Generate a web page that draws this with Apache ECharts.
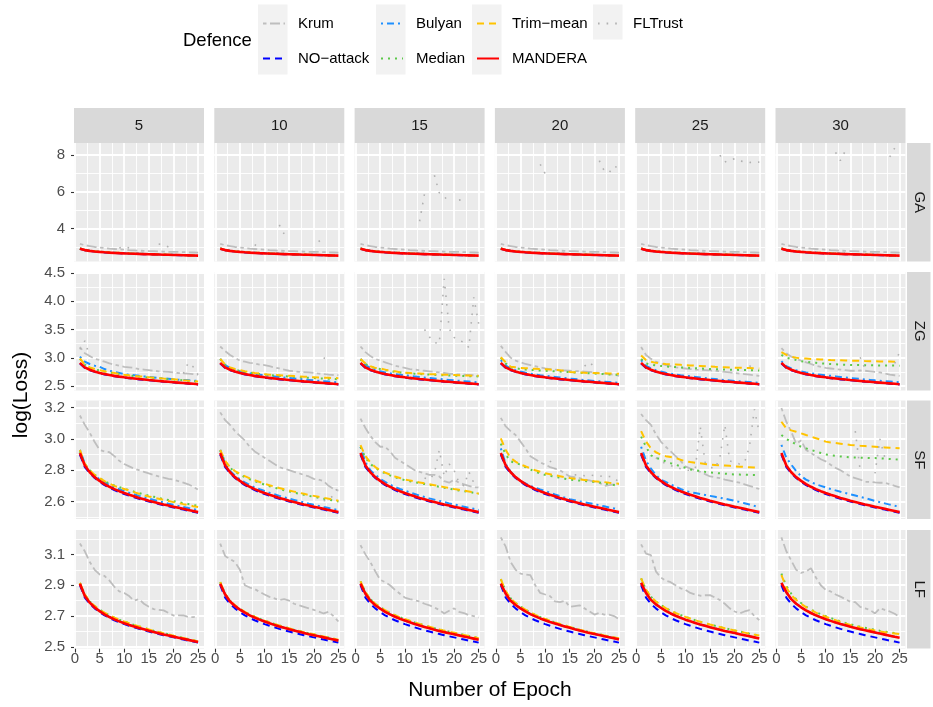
<!DOCTYPE html>
<html>
<head>
<meta charset="UTF-8">
<title>log(Loss) per epoch</title>
<style>
  html, body { margin: 0; padding: 0; background: #fff; }
  #main { width: 933px; height: 707px; }
</style>
</head>
<body>
<div id="main"></div>
<script src="https://cdn.jsdelivr.net/npm/echarts@6.0.0/dist/echarts.min.js"></script>
<script>
// ---- data -------------------------------------------------------------
var epochs = [1,2,3,4,5,6,7,8,9,10,11,12,13,14,15,16,17,18,19,20,21,22,23,24,25];
var attackers = ['5', '10', '15', '20', '25', '30'];
var attacks = ['GA', 'ZG', 'SF', 'LF'];
var defences = ['Krum', 'NO-attack', 'Bulyan', 'Median', 'Trim-mean', 'MANDERA', 'FLTrust'];

var xMajor = [0, 5, 10, 15, 20, 25];
var xMinor = [2.5, 7.5, 12.5, 17.5, 22.5];
var yMajorGA = [4, 6, 8],                yMinorGA = [3, 5, 7];
var yMajorZG = [2.5, 3.0, 3.5, 4.0, 4.5], yMinorZG = [2.75, 3.25, 3.75, 4.25];
var yMajorSF = [2.6, 2.8, 3.0, 3.2],      yMinorSF = [2.5, 2.7, 2.9, 3.1];
var yMajorLF = [2.5, 2.7, 2.9, 3.1],      yMinorLF = [2.6, 2.8, 3.0, 3.2];

// shared curves
var noAttack    = [2.90,2.82,2.78,2.75,2.725,2.705,2.688,2.673,2.66,2.648,2.637,2.627,2.617,2.608,2.60,2.592,2.584,2.576,2.569,2.562,2.555,2.548,2.541,2.535,2.528];
var manderaBase = [2.91,2.83,2.787,2.756,2.732,2.711,2.694,2.679,2.666,2.654,2.643,2.633,2.623,2.614,2.605,2.597,2.589,2.581,2.574,2.567,2.56,2.553,2.546,2.539,2.532];

// GA
var krumGA   = [3.17,3.10,3.05,3.00,2.97,2.94,2.91,2.89,2.87,2.85,2.83,2.82,2.80,2.79,2.78,2.77,2.76,2.75,2.74,2.735,2.73,2.72,2.71,2.70,2.69];
var robustGA = [2.92,2.84,2.80,2.77,2.745,2.725,2.708,2.693,2.68,2.668,2.656,2.645,2.635,2.625,2.616,2.607,2.598,2.59,2.582,2.574,2.566,2.558,2.55,2.543,2.536];
var fltGA5  = [null,null,null,null,null,null,null,null,2.95,3.03,2.95,null,null,null,null,null,3.16,3.12,3.0,null,null,null,null,null,null];
var fltGA10 = [null,null,null,null,null,null,null,3.13,2.95,null,null,null,4.2,3.7,null,null,null,null,null,null,3.35,3.05,null,null,null];
var fltGA15 = [null,null,null,null,null,null,null,null,null,null,null,null,4.4,5.9,null,6.9,5.95,5.8,5.3,null,5.55,5.6,null,null,null];
var fltGA20 = [null,null,null,null,null,null,null,null,7.5,7.0,null,null,null,null,null,null,null,null,null,null,7.7,7.15,7.05,7.4,7.28];
var fltGA25 = [null,null,null,null,null,null,null,null,null,null,null,null,null,null,null,null,8.0,7.62,7.75,7.8,7.68,7.65,7.6,7.62,7.62];
var fltGA30 = [null,null,null,null,null,null,null,null,null,null,null,8.15,7.7,8.25,null,null,null,null,null,null,null,null,7.9,8.38,null];

// ZG
var krumZG5  = [3.19,3.08,3.03,2.98,2.96,2.93,2.90,2.88,2.86,2.84,2.83,2.82,2.80,2.79,2.78,2.77,2.76,2.755,2.75,2.74,2.73,2.725,2.72,2.71,2.70];
var krumZG10 = [3.20,3.12,3.05,3.00,2.95,2.93,2.91,2.90,2.88,2.87,2.85,2.83,2.81,2.79,2.77,2.76,2.75,2.745,2.74,2.73,2.72,2.71,2.70,2.695,2.69];
var krumZG15 = [3.20,3.10,3.03,2.98,2.95,2.92,2.89,2.86,2.84,2.82,2.80,2.79,2.78,2.77,2.76,2.75,2.74,2.73,2.72,2.71,2.705,2.70,2.695,2.69,2.68];
var krumZG20 = [3.21,3.10,3.00,2.95,2.92,2.89,2.87,2.85,2.83,2.81,2.80,2.79,2.78,2.775,2.77,2.765,2.76,2.755,2.75,2.74,2.73,2.72,2.71,2.70,2.68];
var krumZG25 = [3.19,3.05,2.98,2.93,2.90,2.87,2.85,2.83,2.82,2.81,2.80,2.79,2.785,2.78,2.775,2.77,2.76,2.75,2.74,2.73,2.72,2.71,2.70,2.69,2.68];
var krumZG30 = [3.17,3.08,3.02,2.98,2.95,2.92,2.89,2.86,2.84,2.82,2.81,2.80,2.79,2.78,2.77,2.77,2.775,2.77,2.76,2.75,2.74,2.72,2.70,2.69,2.68];
var trimZG5    = [2.99,2.88,2.83,2.80,2.78,2.76,2.745,2.73,2.715,2.70,2.69,2.68,2.67,2.665,2.655,2.648,2.64,2.632,2.625,2.618,2.61,2.602,2.595,2.588,2.58];
var medianZG5  = [2.98,2.875,2.825,2.795,2.775,2.755,2.74,2.725,2.71,2.695,2.685,2.675,2.665,2.658,2.65,2.643,2.636,2.629,2.622,2.615,2.608,2.60,2.592,2.585,2.578];
var bulyanZG5  = [3.02,2.93,2.89,2.86,2.84,2.80,2.77,2.75,2.73,2.71,2.70,2.69,2.68,2.67,2.66,2.65,2.64,2.635,2.63,2.62,2.61,2.605,2.60,2.595,2.59];
var trimZG10   = [2.98,2.88,2.83,2.80,2.78,2.76,2.745,2.73,2.72,2.71,2.70,2.695,2.69,2.685,2.68,2.675,2.67,2.665,2.66,2.655,2.65,2.647,2.644,2.641,2.638];
var medianZG10 = [2.975,2.87,2.82,2.79,2.77,2.75,2.737,2.722,2.712,2.702,2.692,2.686,2.68,2.674,2.668,2.662,2.656,2.65,2.645,2.64,2.636,2.632,2.628,2.624,2.62];
var bulyanZG10 = [2.98,2.87,2.82,2.79,2.76,2.74,2.725,2.71,2.70,2.69,2.68,2.67,2.66,2.65,2.64,2.632,2.624,2.616,2.608,2.60,2.593,2.586,2.579,2.572,2.565];
var trimZG15   = [2.98,2.90,2.85,2.82,2.81,2.79,2.77,2.76,2.745,2.735,2.73,2.725,2.72,2.715,2.71,2.707,2.704,2.70,2.697,2.694,2.69,2.688,2.685,2.682,2.68];
var medianZG15 = [2.97,2.89,2.84,2.815,2.80,2.785,2.765,2.752,2.74,2.73,2.724,2.718,2.712,2.707,2.702,2.698,2.694,2.69,2.687,2.684,2.68,2.678,2.675,2.672,2.67];
var trimZG20   = [3.01,2.92,2.84,2.83,2.82,2.815,2.81,2.805,2.80,2.795,2.79,2.785,2.78,2.765,2.75,2.745,2.74,2.735,2.73,2.728,2.726,2.724,2.722,2.72,2.718];
var medianZG20 = [3.00,2.90,2.83,2.815,2.80,2.79,2.785,2.78,2.775,2.77,2.765,2.76,2.755,2.75,2.745,2.74,2.735,2.73,2.725,2.72,2.715,2.71,2.705,2.70,2.70];
var bulyanZG20 = [2.96,2.86,2.81,2.78,2.755,2.735,2.72,2.705,2.692,2.68,2.67,2.66,2.65,2.64,2.63,2.622,2.614,2.606,2.598,2.59,2.583,2.576,2.569,2.562,2.555];
var trimZG25   = [3.04,2.96,2.93,2.91,2.90,2.89,2.885,2.88,2.875,2.87,2.865,2.86,2.855,2.85,2.845,2.84,2.836,2.832,2.828,2.825,2.822,2.82,2.818,2.815,2.81];
var medianZG25 = [2.98,2.90,2.88,2.865,2.855,2.845,2.84,2.835,2.83,2.825,2.82,2.815,2.81,2.805,2.80,2.798,2.795,2.792,2.79,2.788,2.785,2.782,2.78,2.778,2.775];
var trimZG30   = [3.10,3.05,3.02,3.00,2.99,2.985,2.98,2.975,2.97,2.965,2.96,2.958,2.955,2.952,2.95,2.948,2.945,2.942,2.94,2.938,2.936,2.934,2.932,2.93,2.928];
var medianZG30 = [3.05,3.00,2.98,2.96,2.94,2.93,2.92,2.91,2.90,2.895,2.89,2.885,2.88,2.877,2.874,2.872,2.87,2.868,2.866,2.865,2.864,2.863,2.862,2.861,2.86];
var bulyanZG30 = [2.94,2.85,2.81,2.78,2.76,2.74,2.725,2.71,2.70,2.69,2.68,2.67,2.66,2.65,2.64,2.632,2.624,2.616,2.608,2.60,2.593,2.586,2.579,2.572,2.565];
var fltZG5  = [3.15,3.30,3.02,null,null,null,null,null,null,null,null,null,null,null,null,null,null,null,null,null,null,2.72,2.91,2.84,2.70];
var fltZG10 = [null,null,null,null,null,null,null,null,null,null,null,null,null,null,null,null,null,null,null,null,null,3.0,2.95,null,null];
var fltZG15 = [null,null,null,null,null,null,null,null,null,null,null,null,null,3.5,3.37,3.27,3.25,4.40,3.52,3.36,3.30,3.28,3.18,4.07,3.60];
var fltZG20 = [null,null,null,null,null,null,null,null,null,null,null,null,null,null,null,null,null,2.85,2.92,2.84,null,null,null,null,null];
var fltZG25 = [null,null,null,null,null,null,null,null,null,null,null,null,null,null,null,null,null,null,null,null,null,null,2.86,2.80,null];
var fltZG30 = [null,null,null,null,null,null,null,null,null,null,null,null,null,null,null,null,3.01,2.80,null,null,null,null,null,2.90,3.10];

// SF
var krumSF5    = [3.15,3.09,3.04,2.98,2.93,2.92,2.915,2.89,2.86,2.84,2.825,2.81,2.80,2.79,2.78,2.77,2.76,2.752,2.745,2.74,2.73,2.72,2.71,2.695,2.675];
var trimSF5    = [2.93,2.84,2.80,2.77,2.75,2.73,2.715,2.70,2.69,2.68,2.67,2.66,2.65,2.64,2.632,2.625,2.618,2.61,2.603,2.596,2.59,2.583,2.577,2.57,2.565];
var medianSF5  = [2.92,2.84,2.80,2.77,2.75,2.73,2.715,2.702,2.692,2.682,2.672,2.663,2.654,2.645,2.637,2.63,2.623,2.616,2.609,2.602,2.596,2.59,2.584,2.578,2.572];
var bulyanSF5  = [2.93,2.84,2.795,2.765,2.742,2.722,2.705,2.69,2.678,2.667,2.656,2.646,2.636,2.627,2.618,2.61,2.602,2.594,2.586,2.579,2.572,2.565,2.558,2.551,2.545];
var krumSF10   = [3.17,3.12,3.09,3.05,3.02,2.99,2.95,2.92,2.90,2.88,2.86,2.84,2.82,2.81,2.80,2.79,2.78,2.77,2.76,2.745,2.74,2.73,2.70,2.68,2.67];
var trimSF10   = [2.93,2.86,2.82,2.795,2.778,2.762,2.748,2.736,2.725,2.714,2.704,2.695,2.686,2.678,2.67,2.663,2.656,2.649,2.642,2.636,2.63,2.624,2.618,2.612,2.605];
var medianSF10 = [2.925,2.855,2.815,2.79,2.772,2.756,2.742,2.73,2.719,2.708,2.698,2.689,2.68,2.672,2.664,2.657,2.65,2.643,2.636,2.63,2.624,2.618,2.612,2.606,2.60];
var fltSF10    = [null,null,null,null,null,null,null,null,null,null,null,null,null,null,null,null,null,null,null,null,null,2.605,2.61,2.64,2.70];
var krumSF15   = [3.13,3.07,3.02,2.98,2.95,2.95,2.92,2.88,2.86,2.84,2.82,2.80,2.79,2.78,2.77,2.77,2.76,2.73,2.72,2.74,2.72,2.71,2.70,2.69,2.69];
var trimSF15   = [2.96,2.89,2.85,2.82,2.80,2.785,2.772,2.76,2.75,2.74,2.735,2.728,2.722,2.716,2.71,2.704,2.698,2.692,2.686,2.68,2.675,2.67,2.664,2.658,2.65];
var medianSF15 = [2.95,2.88,2.84,2.815,2.795,2.78,2.767,2.755,2.745,2.736,2.73,2.724,2.718,2.712,2.706,2.70,2.694,2.688,2.682,2.676,2.671,2.666,2.661,2.656,2.65];
var bulyanSF15 = [2.95,2.85,2.80,2.77,2.745,2.725,2.708,2.693,2.68,2.669,2.658,2.648,2.638,2.629,2.62,2.612,2.604,2.596,2.588,2.581,2.574,2.567,2.56,2.553,2.546];
var fltSF15    = [null,null,null,null,null,null,null,null,null,null,null,null,null,2.75,2.74,2.78,2.93,2.76,2.84,2.80,2.72,2.70,2.79,2.72,2.70];
var krumSF20   = [3.135,3.08,3.05,3.025,2.983,2.94,2.89,2.87,2.85,2.836,2.82,2.81,2.80,2.78,2.76,2.755,2.75,2.74,2.735,2.726,2.72,2.70,2.705,2.71,2.71];
var trimSF20   = [3.004,2.93,2.878,2.855,2.836,2.825,2.812,2.80,2.79,2.78,2.774,2.768,2.762,2.756,2.75,2.746,2.742,2.738,2.734,2.73,2.727,2.724,2.72,2.717,2.714];
var medianSF20 = [2.97,2.90,2.857,2.845,2.836,2.82,2.805,2.79,2.78,2.77,2.764,2.758,2.752,2.746,2.74,2.737,2.734,2.731,2.728,2.726,2.722,2.716,2.71,2.705,2.70];
var bulyanSF20 = [2.94,2.84,2.79,2.755,2.73,2.715,2.70,2.688,2.677,2.667,2.656,2.645,2.635,2.625,2.615,2.608,2.601,2.595,2.589,2.583,2.576,2.569,2.562,2.556,2.55];
var fltSF20    = [null,null,null,null,null,null,null,null,null,null,2.86,2.81,null,null,null,2.77,2.77,2.765,2.77,2.765,2.76,2.765,2.76,2.755,2.72];
var krumSF25   = [3.16,3.12,3.09,3.03,2.983,2.95,2.92,2.89,2.86,2.825,2.81,2.80,2.79,2.775,2.76,2.755,2.75,2.74,2.733,2.726,2.72,2.71,2.70,2.69,2.68];
var trimSF25   = [3.05,2.983,2.94,2.915,2.90,2.89,2.884,2.878,2.867,2.857,2.852,2.848,2.844,2.84,2.836,2.834,2.832,2.83,2.828,2.825,2.823,2.821,2.819,2.817,2.815];
var medianSF25 = [3.015,2.95,2.895,2.878,2.87,2.857,2.845,2.835,2.825,2.815,2.805,2.80,2.795,2.79,2.786,2.783,2.78,2.778,2.775,2.773,2.772,2.771,2.77,2.769,2.768];
var bulyanSF25 = [2.95,2.86,2.81,2.77,2.74,2.725,2.71,2.695,2.68,2.667,2.66,2.654,2.648,2.642,2.636,2.63,2.624,2.618,2.611,2.604,2.597,2.589,2.581,2.572,2.562];
var fltSF25    = [null,null,null,2.88,2.86,2.84,2.83,2.82,2.81,2.80,2.80,2.81,3.08,2.85,2.82,2.81,2.88,3.09,2.86,2.85,2.84,2.85,2.95,3.19,3.04];
var krumSF30   = [3.198,3.11,3.046,2.97,2.99,2.93,2.91,2.89,2.87,2.857,2.835,2.815,2.80,2.78,2.76,2.75,2.74,2.726,2.725,2.722,2.72,2.72,2.71,2.70,2.69];
var trimSF30   = [3.11,3.067,3.055,3.046,3.036,3.025,3.015,3.005,2.995,2.983,2.978,2.974,2.97,2.966,2.962,2.96,2.957,2.955,2.952,2.95,2.948,2.946,2.944,2.942,2.94];
var medianSF30 = [3.025,3.00,2.983,2.965,2.95,2.94,2.93,2.92,2.91,2.90,2.896,2.892,2.888,2.885,2.882,2.881,2.88,2.879,2.878,2.878,2.876,2.874,2.872,2.87,2.867];
var bulyanSF30 = [2.962,2.88,2.836,2.795,2.762,2.74,2.725,2.71,2.70,2.69,2.68,2.671,2.662,2.654,2.646,2.638,2.63,2.622,2.613,2.604,2.596,2.588,2.58,2.573,2.566];
var fltSF30    = [null,null,null,null,null,null,null,null,null,null,null,null,null,null,null,3.05,2.80,null,null,2.78,3.0,2.88,2.86,null,null];

// LF
var krumLF5  = [3.17,3.12,3.05,3.00,2.97,2.96,2.93,2.89,2.86,2.85,2.83,2.80,2.81,2.78,2.76,2.745,2.74,2.737,2.72,2.704,2.705,2.704,2.695,2.693,2.698];
var krumLF10 = [3.17,3.09,3.07,3.05,3.00,2.90,2.885,2.875,2.857,2.84,2.825,2.815,2.803,2.81,2.80,2.78,2.77,2.76,2.75,2.74,2.73,2.717,2.728,2.70,2.665];
var krumLF15 = [3.16,3.10,3.05,2.99,2.935,2.92,2.90,2.87,2.845,2.82,2.81,2.803,2.795,2.78,2.77,2.755,2.74,2.717,2.735,2.75,2.728,2.72,2.706,2.70,2.69];
var krumLF20 = [3.21,3.15,3.05,3.00,2.975,2.97,2.966,2.90,2.85,2.84,2.83,2.795,2.79,2.80,2.76,2.765,2.77,2.75,2.73,2.71,2.72,2.71,2.71,2.70,2.68];
var krumLF25 = [3.165,3.105,3.095,2.99,2.95,2.93,2.92,2.90,2.88,2.87,2.85,2.84,2.832,2.835,2.836,2.82,2.804,2.78,2.75,2.73,2.717,2.73,2.739,2.70,2.674];
var krumLF30 = [3.21,3.12,3.06,3.00,2.98,2.99,3.01,2.95,2.90,2.87,2.86,2.84,2.826,2.81,2.793,2.79,2.76,2.75,2.74,2.717,2.75,2.74,2.73,2.715,2.695];
var manderaLF10 = [2.91,2.84,2.795,2.765,2.742,2.722,2.705,2.69,2.677,2.665,2.654,2.643,2.633,2.624,2.615,2.607,2.599,2.591,2.583,2.576,2.569,2.562,2.555,2.548,2.541];
var manderaLF15 = [2.91,2.845,2.80,2.77,2.748,2.728,2.711,2.696,2.683,2.671,2.66,2.649,2.639,2.63,2.621,2.612,2.604,2.596,2.589,2.582,2.575,2.568,2.561,2.554,2.547];
var manderaLF20 = [2.91,2.845,2.80,2.772,2.75,2.73,2.713,2.698,2.685,2.673,2.662,2.652,2.642,2.633,2.624,2.615,2.607,2.599,2.591,2.584,2.577,2.57,2.563,2.556,2.548];
var manderaLF25 = [2.915,2.85,2.805,2.776,2.754,2.734,2.717,2.702,2.689,2.677,2.666,2.656,2.646,2.637,2.628,2.62,2.612,2.604,2.597,2.59,2.583,2.576,2.569,2.562,2.555];
var manderaLF30 = [2.915,2.855,2.81,2.78,2.757,2.737,2.72,2.705,2.692,2.68,2.669,2.659,2.649,2.64,2.631,2.623,2.615,2.608,2.601,2.594,2.587,2.58,2.573,2.566,2.56];
var trimLF5  = [2.915,2.84,2.795,2.765,2.742,2.722,2.705,2.69,2.677,2.665,2.654,2.643,2.633,2.623,2.614,2.605,2.597,2.589,2.581,2.573,2.566,2.558,2.551,2.544,2.536];
var trimLF10 = [2.92,2.845,2.80,2.77,2.748,2.728,2.711,2.696,2.683,2.671,2.66,2.649,2.639,2.63,2.621,2.612,2.604,2.596,2.589,2.582,2.575,2.568,2.561,2.554,2.547];
var trimLF15 = [2.925,2.855,2.81,2.78,2.758,2.738,2.721,2.706,2.693,2.681,2.67,2.659,2.649,2.64,2.631,2.622,2.614,2.606,2.599,2.592,2.585,2.578,2.571,2.564,2.557];
var trimLF20 = [2.94,2.86,2.815,2.785,2.762,2.742,2.724,2.708,2.694,2.682,2.67,2.659,2.649,2.639,2.63,2.621,2.612,2.604,2.596,2.589,2.582,2.575,2.568,2.562,2.556];
var trimLF25 = [2.945,2.87,2.825,2.795,2.772,2.752,2.735,2.72,2.707,2.695,2.684,2.673,2.663,2.654,2.645,2.637,2.629,2.621,2.614,2.607,2.60,2.593,2.586,2.58,2.574];
var trimLF30 = [2.965,2.885,2.835,2.805,2.78,2.758,2.739,2.722,2.708,2.696,2.684,2.673,2.662,2.652,2.643,2.635,2.627,2.62,2.613,2.607,2.601,2.596,2.591,2.587,2.583];
var medianLF30 = [2.975,2.895,2.845,2.81,2.785,2.762,2.743,2.726,2.712,2.70,2.688,2.677,2.666,2.656,2.647,2.639,2.631,2.624,2.617,2.611,2.605,2.60,2.595,2.591,2.587];

// lookup table: attack -> per attacker count -> defence -> values
var panelData = {
  GA: [
    { Krum: krumGA, Bulyan: robustGA, Median: robustGA, 'Trim-mean': robustGA, MANDERA: manderaBase, FLTrust: fltGA5 },
    { Krum: krumGA, Bulyan: robustGA, Median: robustGA, 'Trim-mean': robustGA, MANDERA: manderaBase, FLTrust: fltGA10 },
    { Krum: krumGA, Bulyan: robustGA, Median: robustGA, 'Trim-mean': robustGA, MANDERA: manderaBase, FLTrust: fltGA15 },
    { Krum: krumGA, Bulyan: robustGA, Median: robustGA, 'Trim-mean': robustGA, MANDERA: manderaBase, FLTrust: fltGA20 },
    { Krum: krumGA, Bulyan: robustGA, Median: robustGA, 'Trim-mean': robustGA, MANDERA: manderaBase, FLTrust: fltGA25 },
    { Krum: krumGA, Bulyan: robustGA, Median: robustGA, 'Trim-mean': robustGA, MANDERA: manderaBase, FLTrust: fltGA30 }
  ],
  ZG: [
    { Krum: krumZG5,  Bulyan: bulyanZG5,  Median: medianZG5,  'Trim-mean': trimZG5,  MANDERA: manderaBase, FLTrust: fltZG5 },
    { Krum: krumZG10, Bulyan: bulyanZG10, Median: medianZG10, 'Trim-mean': trimZG10, MANDERA: manderaBase, FLTrust: fltZG10 },
    { Krum: krumZG15, Bulyan: bulyanZG10, Median: medianZG15, 'Trim-mean': trimZG15, MANDERA: manderaBase, FLTrust: fltZG15 },
    { Krum: krumZG20, Bulyan: bulyanZG20, Median: medianZG20, 'Trim-mean': trimZG20, MANDERA: manderaBase, FLTrust: fltZG20 },
    { Krum: krumZG25, Bulyan: bulyanZG20, Median: medianZG25, 'Trim-mean': trimZG25, MANDERA: manderaBase, FLTrust: fltZG25 },
    { Krum: krumZG30, Bulyan: bulyanZG30, Median: medianZG30, 'Trim-mean': trimZG30, MANDERA: manderaBase, FLTrust: fltZG30 }
  ],
  SF: [
    { Krum: krumSF5,  Bulyan: bulyanSF5,  Median: medianSF5,  'Trim-mean': trimSF5,  MANDERA: manderaBase, FLTrust: null },
    { Krum: krumSF10, Bulyan: bulyanSF5,  Median: medianSF10, 'Trim-mean': trimSF10, MANDERA: manderaBase, FLTrust: fltSF10 },
    { Krum: krumSF15, Bulyan: bulyanSF15, Median: medianSF15, 'Trim-mean': trimSF15, MANDERA: manderaBase, FLTrust: fltSF15 },
    { Krum: krumSF20, Bulyan: bulyanSF20, Median: medianSF20, 'Trim-mean': trimSF20, MANDERA: manderaBase, FLTrust: fltSF20 },
    { Krum: krumSF25, Bulyan: bulyanSF25, Median: medianSF25, 'Trim-mean': trimSF25, MANDERA: manderaBase, FLTrust: fltSF25 },
    { Krum: krumSF30, Bulyan: bulyanSF30, Median: medianSF30, 'Trim-mean': trimSF30, MANDERA: manderaBase, FLTrust: fltSF30 }
  ],
  LF: [
    { Krum: krumLF5,  Bulyan: manderaBase, Median: trimLF5,  'Trim-mean': trimLF5,  MANDERA: manderaBase, FLTrust: null },
    { Krum: krumLF10, Bulyan: manderaLF10, Median: trimLF10, 'Trim-mean': trimLF10, MANDERA: manderaLF10, FLTrust: null },
    { Krum: krumLF15, Bulyan: manderaLF15, Median: trimLF15, 'Trim-mean': trimLF15, MANDERA: manderaLF15, FLTrust: null },
    { Krum: krumLF20, Bulyan: manderaLF20, Median: trimLF20, 'Trim-mean': trimLF20, MANDERA: manderaLF20, FLTrust: null },
    { Krum: krumLF25, Bulyan: manderaLF25, Median: trimLF25, 'Trim-mean': trimLF25, MANDERA: manderaLF25, FLTrust: null },
    { Krum: krumLF30, Bulyan: manderaLF30, Median: medianLF30, 'Trim-mean': trimLF30, MANDERA: manderaLF30, FLTrust: null }
  ]
};

// ---- layout & styles --------------------------------------------------
var FONT = "'Liberation Sans', Arial, Helvetica, sans-serif";
var colLeft = [74, 214.3, 354.6, 494.9, 635.2, 775.5];
var rowTop = [143, 272, 400.5, 530];
var panelW = 130, panelH = 118.5;
var yRange = { GA: [2.21, 8.66], ZG: [2.42, 4.52], SF: [2.488, 3.246], LF: [2.49, 3.258] };
var yMajor = { GA: yMajorGA, ZG: yMajorZG, SF: yMajorSF, LF: yMajorLF };
var yMinor = { GA: yMinorGA, ZG: yMinorZG, SF: yMinorSF, LF: yMinorLF };

var lineLook = {
  'Krum':      { color: '#BEBEBE', width: 1.8, type: [3.5, 3.5, 10, 3.5] },
  'NO-attack': { color: '#0000FF', width: 2,   type: [7, 5] },
  'Bulyan':    { color: '#1E90FF', width: 2,   type: [2, 4, 7, 4] },
  'Median':    { color: '#5CC84A', width: 2,   type: [2, 5] },
  'Trim-mean': { color: '#FFC300', width: 2,   type: [7, 5] },
  'MANDERA':   { color: '#FF0000', width: 2.6, type: 'solid' },
  'FLTrust':   { color: '#B0B0B0', width: 1.6, type: [1.6, 7] }
};

var grids = [], xAxes = [], yAxes = [], series = [];

attacks.forEach(function (att, r) {
  attackers.forEach(function (n, c) {
    var g = r * 6 + c;
    grids.push({
      left: colLeft[c], top: rowTop[r], width: panelW, height: panelH,
      show: true, backgroundColor: '#EBEBEB', borderWidth: 0
    });
    xAxes.push({
      gridIndex: g, type: 'value', min: -0.2, max: 26.2,
      axisLine: { show: false }, splitLine: { show: false },
      axisTick: { show: r === 3, customValues: xMajor, length: 4, lineStyle: { color: '#333333', width: 1.1 } },
      axisLabel: { show: r === 3, customValues: xMajor, color: '#4D4D4D', fontSize: 15, fontFamily: FONT, margin: 3 }
    });
    yAxes.push({
      gridIndex: g, type: 'value', min: yRange[att][0], max: yRange[att][1],
      axisLine: { show: false }, splitLine: { show: false },
      axisTick: { show: c === 0, customValues: yMajor[att], length: 4, lineStyle: { color: '#333333', width: 1.1 } },
      axisLabel: {
        show: c === 0, customValues: yMajor[att], color: '#4D4D4D', fontSize: 15, fontFamily: FONT, margin: 9,
        formatter: function (v) { return att === 'GA' ? String(Math.round(v)) : v.toFixed(1); }
      }
    });

    // panel grid lines (ggplot-like white major/minor lines)
    var gl = [];
    yMinor[att].forEach(function (v) { gl.push({ yAxis: v, lineStyle: { width: 0.9 } }); });
    yMajor[att].forEach(function (v) { gl.push({ yAxis: v, lineStyle: { width: 1.8 } }); });
    xMinor.forEach(function (v) { gl.push({ xAxis: v, lineStyle: { width: 0.9 } }); });
    xMajor.forEach(function (v) { gl.push({ xAxis: v, lineStyle: { width: 1.8 } }); });
    series.push({
      type: 'line', xAxisIndex: g, yAxisIndex: g, data: [], silent: true, z: 1,
      markLine: {
        silent: true, symbol: ['none', 'none'], z: 1, animation: false,
        label: { show: false },
        lineStyle: { color: '#FFFFFF', type: 'solid' },
        emphasis: { disabled: true },
        data: gl
      }
    });

    defences.forEach(function (d) {
      var vals = d === 'NO-attack' ? noAttack : panelData[att][c][d];
      var pts = vals ? epochs.map(function (e, i) { return [e, vals[i] == null ? '-' : vals[i]]; }) : [];
      var look = lineLook[d];
      series.push({
        name: d, type: 'line', xAxisIndex: g, yAxisIndex: g,
        data: pts, symbol: 'none', silent: true, z: 2,
        itemStyle: { color: look.color },
        lineStyle: { color: look.color, width: look.width, type: look.type }
      });
    });
  });
});

// legend: one component per key, arranged like the ggplot legend (2 rows x 4 columns)
var legendSpots = [
  { name: 'Krum', left: 262, top: 16 }, { name: 'NO-attack', left: 262, top: 51 },
  { name: 'Bulyan', left: 380, top: 16 }, { name: 'Median', left: 380, top: 51 },
  { name: 'Trim-mean', left: 476, top: 16 }, { name: 'MANDERA', left: 476, top: 51 },
  { name: 'FLTrust', left: 597, top: 16 }
];
var legends = legendSpots.map(function (s) {
  return {
    data: [s.name], left: s.left, top: s.top, padding: 0, itemGap: 0,
    itemWidth: 22, itemHeight: 14,
    itemStyle: { opacity: 0, borderWidth: 0 },
    formatter: function (name) { return name.replace('-', '\u2212'); },
    textStyle: { fontSize: 15, color: '#000000', fontFamily: FONT, padding: [0, 0, 0, 8] }
  };
});

var graphics = [
  { type: 'rect', shape: { x: 258, y: 4.5, width: 29.5, height: 70 }, style: { fill: '#F2F2F2' }, silent: true },
  { type: 'rect', shape: { x: 376, y: 4.5, width: 29.5, height: 70 }, style: { fill: '#F2F2F2' }, silent: true },
  { type: 'rect', shape: { x: 472, y: 4.5, width: 29.5, height: 70 }, style: { fill: '#F2F2F2' }, silent: true },
  { type: 'rect', shape: { x: 593, y: 4.5, width: 29.5, height: 35 }, style: { fill: '#F2F2F2' }, silent: true },
  { type: 'text', x: 183, y: 41, silent: true,
    style: { text: 'Defence', fill: '#000000', font: '18.5px ' + FONT, textAlign: 'left', textVerticalAlign: 'middle' } },
  { type: 'text', x: 490, y: 690, silent: true,
    style: { text: 'Number of Epoch', fill: '#000000', font: '21px ' + FONT, textAlign: 'center', textVerticalAlign: 'middle' } },
  { type: 'text', x: 21, y: 395, rotation: Math.PI / 2, silent: true,
    style: { text: 'log(Loss)', fill: '#000000', font: '21px ' + FONT, textAlign: 'center', textVerticalAlign: 'middle' } }
];
attackers.forEach(function (n, c) {
  graphics.push({ type: 'rect', shape: { x: colLeft[c], y: 108, width: panelW, height: 35 }, style: { fill: '#D9D9D9' }, silent: true });
  graphics.push({ type: 'text', x: colLeft[c] + panelW / 2, y: 125.5, silent: true,
    style: { text: n, fill: '#1A1A1A', font: '15px ' + FONT, textAlign: 'center', textVerticalAlign: 'middle' } });
});
attacks.forEach(function (att, r) {
  graphics.push({ type: 'rect', shape: { x: 907, y: rowTop[r], width: 23.5, height: panelH }, style: { fill: '#D9D9D9' }, silent: true });
  graphics.push({ type: 'text', x: 918.7, y: rowTop[r] + panelH / 2, rotation: -Math.PI / 2, silent: true,
    style: { text: att, fill: '#1A1A1A', font: '15px ' + FONT, textAlign: 'center', textVerticalAlign: 'middle' } });
});

var app = echarts.init(document.getElementById('main'), null, { renderer: 'canvas' });
app.setOption({
  animation: false,
  backgroundColor: '#FFFFFF',
  legend: legends,
  grid: grids,
  xAxis: xAxes,
  yAxis: yAxes,
  graphic: graphics,
  series: series
});
window.addEventListener('resize', function () { app.resize(); });
</script>
</body>
</html>
